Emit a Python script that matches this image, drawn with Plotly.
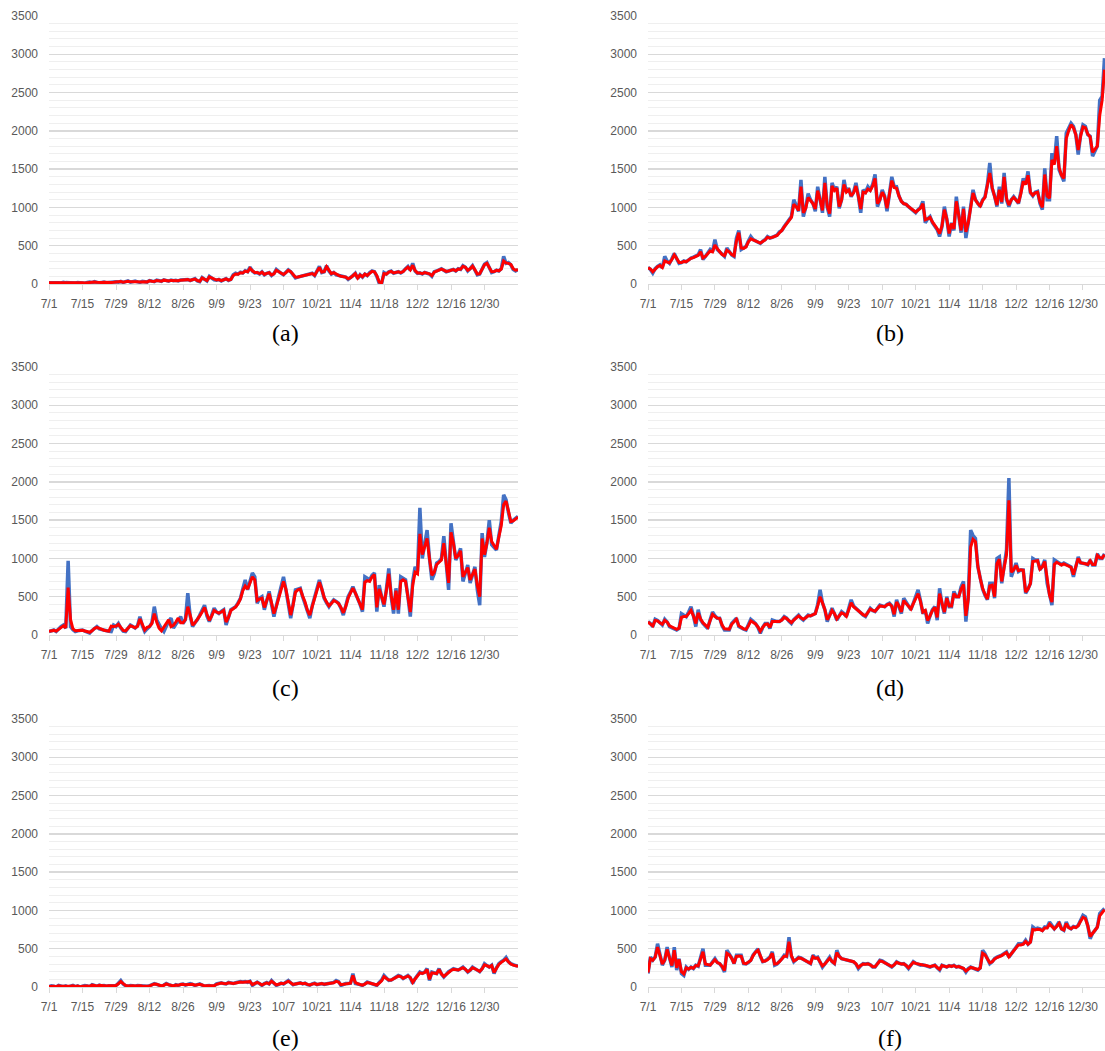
import pandas as pd
import plotly.graph_objects as go

START = "2019-07-01"
TICK_LABELS = ["7/1", "7/15", "7/29", "8/12", "8/26", "9/9", "9/23", "10/7",
               "10/21", "11/4", "11/18", "12/2", "12/16", "12/30"]
PANEL_LABELS = ["(a)", "(b)", "(c)", "(d)", "(e)", "(f)"]

A_ACT = [15,18,12,20,16,14,22,18,15,20,17,14,19,16,
         15,10,20,25,18,30,22,15,20,25,18,22,20,24,
         30,25,35,20,28,40,25,30,38,28,22,35,30,25,
         45,35,30,50,40,35,55,45,38,50,42,48,40,52,
         55,48,60,45,52,70,40,30,85,60,40,100,75,55,
         50,60,40,55,70,45,60,120,140,130,155,145,175,160,
         220,170,145,150,130,160,120,140,150,110,135,190,160,140,
         120,150,185,160,110,80,90,100,110,120,125,130,140,110,
         180,230,150,160,240,170,130,150,120,110,100,95,90,60,
         80,110,140,70,120,90,130,110,150,170,160,100,10,5,
         150,130,160,170,140,150,160,145,165,200,230,180,270,170,
         140,145,130,150,140,130,100,160,170,190,200,180,160,170,
         180,190,170,200,190,240,220,170,200,240,180,120,130,190,
         260,280,200,150,160,180,170,200,360,270,280,250,190,170,190]
A_PRED = [16,17,15,18,17,16,19,18,16,18,17,16,18,17,
          16,13,18,22,19,26,23,18,19,23,20,21,21,23,
          28,26,32,24,27,36,28,30,35,30,25,32,30,27,
          42,37,33,46,41,37,50,46,40,47,43,46,42,50,
          53,50,57,48,52,65,45,35,78,62,45,92,78,58,
          52,58,45,55,66,50,58,110,130,128,148,145,168,160,
          205,172,150,150,135,155,125,138,148,118,132,180,162,145,
          125,148,178,162,118,88,92,100,108,118,122,128,136,115,
          170,215,155,160,225,172,135,148,125,112,102,96,90,68,
          82,108,135,78,118,95,128,112,145,165,160,110,25,15,
          135,130,155,165,145,150,158,148,162,195,220,185,245,175,
          145,145,135,148,142,132,110,155,168,185,195,182,165,170,
          178,188,172,195,192,232,218,178,198,232,185,130,135,185,
          250,270,205,160,162,178,172,195,300,275,270,255,200,180,185]

B_ACT = [217,190,143,200,230,250,210,360,300,270,330,400,330,270,
         280,300,290,320,340,350,360,380,450,320,360,400,450,420,
         580,450,420,380,360,470,420,380,360,600,700,450,470,490,
         560,620,580,560,540,530,560,580,620,600,610,620,640,680,
         700,750,800,850,880,1100,1010,950,1360,880,1000,1180,1100,1050,
         950,1270,1100,930,1400,1000,880,1320,1230,1270,990,1100,1360,1200,
         1250,1140,1200,1320,1150,930,1230,1200,1270,1230,1300,1430,1010,1100,
         1230,1150,950,1200,1400,1270,1270,1150,1080,1050,1040,1010,980,960,
         930,970,1000,1080,800,850,880,800,750,710,620,750,1010,850,
         620,800,700,1140,900,670,1010,600,800,1000,1230,1100,1050,1010,
         1100,1140,1300,1580,1250,1150,1010,1270,1050,1450,1100,1010,1100,1140,
         1100,1050,1200,1380,1300,1470,1190,1150,1200,1210,1050,970,1510,1100,
         1100,1710,1580,1930,1490,1400,1340,1970,2050,2100,2060,1950,1690,1950,
         2080,2060,1950,1930,1670,1750,1800,2400,2450,2950]
B_PRED = [210,195,160,195,225,240,215,300,290,275,320,380,335,280,
          280,295,290,315,335,345,355,375,420,340,360,395,430,420,
          510,460,420,385,370,440,420,385,370,560,670,470,465,485,
          550,590,575,560,545,535,555,575,610,600,608,618,635,670,
          700,745,790,840,870,1040,1010,960,1270,930,990,1130,1090,1050,
          980,1220,1100,960,1320,1020,920,1280,1220,1250,1010,1100,1300,1200,
          1230,1150,1190,1280,1150,980,1200,1190,1240,1220,1280,1380,1050,1100,
          1200,1140,990,1180,1350,1260,1250,1150,1080,1050,1040,1010,985,965,
          940,965,990,1050,840,850,870,810,770,720,660,760,970,850,
          660,790,720,1080,900,700,980,680,800,990,1190,1100,1050,1020,
          1090,1130,1270,1450,1260,1160,1030,1230,1070,1400,1120,1030,1100,1130,
          1100,1060,1180,1340,1300,1420,1200,1160,1190,1200,1070,1000,1430,1150,
          1120,1620,1560,1800,1520,1420,1380,1900,2000,2080,2040,1950,1750,1930,
          2050,2040,1960,1920,1720,1760,1800,2200,2400,2800]

C_ACT = [45,55,65,45,80,110,130,90,970,110,70,45,55,60,
         65,50,40,25,60,90,110,80,70,65,55,50,45,130,
         110,150,90,50,45,90,130,110,90,120,240,120,45,80,
         110,160,370,200,130,80,45,120,180,220,90,140,180,240,
         150,200,545,250,110,160,200,260,320,390,250,175,260,350,
         300,280,310,330,130,230,330,350,370,420,480,600,720,590,
         700,810,760,415,480,500,330,450,570,400,240,380,500,620,
         760,590,400,220,400,590,600,610,500,415,300,220,380,500,
         600,720,600,480,420,370,420,460,440,415,350,260,380,500,
         560,630,550,480,400,305,760,740,720,780,810,305,650,500,
         370,600,870,500,280,610,280,760,740,720,500,240,700,890,
         830,1660,1000,1200,1370,1000,720,800,940,960,1000,1290,940,590,
         1460,1200,980,1050,1130,700,800,915,680,800,890,590,390,1330,
         1020,1200,1500,1180,1150,1110,1300,1480,1830,1765,1600,1460,1500,1520,1550]
C_PRED = [50,55,60,50,75,100,120,95,620,200,80,55,55,60,
          62,52,45,35,55,85,100,85,70,62,55,50,115,110,
          115,140,100,60,55,90,120,110,95,115,210,140,65,100,
          110,150,280,170,90,55,100,160,200,110,125,170,220,160,
          160,200,370,260,130,160,200,250,300,360,270,190,250,320,
          300,285,300,320,170,230,320,345,365,410,470,580,640,600,
          690,760,720,450,470,480,360,440,540,420,280,370,480,590,
          700,600,420,260,390,560,590,600,510,430,320,260,370,480,
          580,690,600,490,430,380,410,450,435,410,360,290,370,480,
          550,610,550,480,410,330,690,710,700,760,790,360,600,500,
          400,580,800,520,330,580,330,700,720,700,520,300,650,820,
          800,1320,1050,1150,1260,1000,780,820,920,950,980,1200,960,680,
          1340,1200,1000,1040,1100,760,820,880,720,800,860,650,500,1260,
          1050,1200,1400,1220,1160,1120,1280,1430,1700,1750,1620,1480,1490,1510,1540]

D_ACT = [175,150,110,205,190,160,130,205,170,110,100,80,65,85,
         280,260,240,300,370,250,110,330,200,150,120,85,200,300,
         250,220,220,120,65,70,65,150,180,220,110,90,75,65,
         130,205,180,150,100,20,100,150,150,85,195,180,175,175,
         200,240,220,180,150,200,230,260,220,195,230,260,250,270,
         280,400,590,420,330,175,260,350,280,195,250,305,280,240,
         350,460,380,350,320,280,260,240,300,350,320,305,350,390,
         380,370,400,415,380,240,460,380,280,480,420,380,330,420,
         480,590,450,280,330,150,250,330,370,195,610,400,280,500,
         370,370,570,500,500,630,700,175,500,1370,1300,1260,890,720,
         600,520,460,675,675,480,1000,1020,675,900,1110,2050,760,850,
         940,830,850,850,545,600,675,1000,980,980,850,900,980,675,
         500,390,980,960,940,920,940,920,900,890,760,900,1020,940,
         940,930,915,980,915,915,1060,1000,1000,1060]
D_PRED = [170,150,120,190,185,160,140,190,170,120,105,85,75,90,
          230,240,240,280,320,250,150,290,210,160,130,100,190,270,
          240,220,215,130,80,75,75,140,170,205,120,95,80,75,
          120,185,170,145,105,50,100,140,145,100,175,175,170,175,
          195,230,215,185,160,195,225,250,225,205,225,250,250,265,
          280,380,500,420,330,200,250,320,280,210,250,290,275,245,
          330,420,370,345,320,285,265,250,295,340,320,310,345,380,
          375,370,395,405,375,270,430,380,300,450,410,380,340,410,
          470,540,440,300,320,190,250,320,360,230,540,400,300,480,
          380,380,540,500,500,600,660,250,470,1150,1250,1220,900,740,
          610,530,470,640,650,500,930,990,700,880,1050,1760,820,850,
          910,840,850,845,560,600,670,960,970,970,860,890,960,700,
          520,430,920,950,930,915,930,915,900,885,790,890,1000,945,
          940,930,920,970,920,920,1040,1010,1005,1050]

E_ACT = [5,15,10,0,20,10,5,15,0,10,20,5,15,0,
         10,20,15,5,30,20,10,25,15,20,10,15,20,15,
         20,50,85,40,15,10,20,15,10,20,15,10,5,10,
         15,30,45,35,20,10,25,45,30,15,10,30,20,35,
         40,25,30,45,35,20,30,40,25,10,15,20,10,15,
         40,50,55,45,40,60,50,45,55,65,70,65,70,60,
         75,20,40,65,45,20,45,60,40,85,50,20,35,50,
         40,60,85,55,30,40,45,55,40,50,30,25,40,50,
         30,40,45,35,40,50,45,60,85,70,20,35,45,45,
         50,175,45,40,30,20,40,65,55,40,30,20,60,90,
         150,120,85,90,110,130,150,140,110,130,150,120,45,110,
         160,195,180,195,240,85,195,180,175,240,170,130,170,200,
         220,240,230,220,240,260,230,195,220,260,240,220,200,240,
         305,280,260,285,175,250,305,330,350,385,330,305,290,280,275]
E_PRED = [8,12,10,5,15,10,8,12,5,10,15,8,12,5,
          10,16,14,8,24,20,12,22,16,18,12,15,18,16,
          20,42,72,45,20,14,18,16,12,18,15,12,8,10,
          14,26,40,35,22,14,22,40,30,18,14,26,22,32,
          36,28,30,40,35,24,28,36,26,14,15,18,12,15,
          35,46,52,46,42,55,50,46,52,60,65,63,66,60,
          70,30,40,60,46,26,42,55,42,75,52,28,36,48,
          42,56,75,55,34,40,44,52,42,48,34,28,38,46,
          34,40,44,36,40,48,46,56,75,66,30,36,44,45,
          50,150,60,42,32,25,38,58,52,42,32,26,52,80,
          135,118,90,90,105,125,142,136,115,128,145,122,60,105,
          150,185,178,190,228,100,185,178,175,228,172,138,168,196,
          215,232,228,222,236,252,232,200,220,252,238,222,205,236,
          290,278,262,280,190,245,295,322,340,365,330,300,285,278,272]

F_ACT = [175,390,350,390,565,400,285,350,520,380,260,520,220,370,
         175,150,260,230,260,240,285,270,390,500,285,290,285,330,
         370,320,305,260,195,480,435,380,305,415,415,415,305,300,
         320,350,420,470,500,400,330,340,360,390,460,285,300,330,
         370,415,400,650,400,330,360,390,380,360,350,330,305,415,
         380,390,330,260,300,350,390,330,305,480,400,370,360,350,
         350,340,330,300,240,280,305,300,305,290,260,260,300,350,
         340,320,305,290,260,290,330,310,300,305,280,240,290,330,
         310,300,285,290,285,270,260,275,285,250,220,285,270,260,
         280,270,285,260,270,260,240,195,240,260,250,240,220,250,
         480,435,380,305,330,370,390,400,415,440,460,390,440,480,
         520,565,560,565,610,560,590,785,760,770,760,740,785,780,
         850,800,760,800,850,760,740,850,780,760,790,780,805,870,
         935,915,800,630,700,740,785,960,990,1025]
F_PRED = [190,370,350,390,520,400,300,350,490,380,280,480,250,360,
          200,170,250,235,255,245,280,275,370,460,300,290,285,320,
          355,320,305,270,215,440,420,375,310,400,405,400,310,305,
          320,345,410,455,480,400,335,340,355,385,440,300,305,330,
          360,400,400,590,410,340,355,380,375,360,350,335,310,395,
          375,380,335,275,300,340,375,335,310,450,400,370,360,350,
          348,338,330,305,255,280,300,298,302,290,265,265,298,340,
          335,320,305,292,268,288,322,310,300,302,282,250,288,322,
          308,300,286,288,284,272,264,274,282,255,232,280,268,262,
          276,270,280,262,268,258,244,210,238,255,248,240,228,248,
          440,420,375,315,330,365,385,395,410,430,450,395,435,470,
          510,550,550,560,595,560,585,750,745,755,750,735,770,770,
          820,790,760,790,830,760,745,830,775,760,785,775,800,860,
          910,895,800,660,700,740,780,930,975,1010]

SERIES = [(A_ACT, A_PRED), (B_ACT, B_PRED), (C_ACT, C_PRED),
          (D_ACT, D_PRED), (E_ACT, E_PRED), (F_ACT, F_PRED)]

W, H = 1105, 1051
COL_X = [(49, 518), (648, 1105)]
ROW_Y = [(16, 284), (367, 635), (719, 987)]
CAP_X = [285, 890]
CAP_Y = [333, 688, 1038]
RANGE_END = ["2020-01-13", "2020-01-08 05:00"]

tickvals = pd.date_range(START, periods=len(TICK_LABELS), freq="14D")

fig = go.Figure()
layout = dict(width=W, height=H,
              margin=dict(l=0, r=0, t=0, b=0, pad=0, autoexpand=False),
              paper_bgcolor="white", plot_bgcolor="white", showlegend=False,
              hovermode=False)
annotations = []
for i, (act, pred) in enumerate(SERIES):
    row, col = divmod(i, 2)
    n = "" if i == 0 else str(i + 1)
    dates = pd.date_range(START, periods=len(act), freq="D")
    fig.add_trace(go.Scatter(x=dates, y=act, mode="lines",
                             line=dict(color="#4472C4", width=3.5),
                             xaxis="x" + n, yaxis="y" + n))
    fig.add_trace(go.Scatter(x=dates, y=pred, mode="lines",
                             line=dict(color="#FF0000", width=3),
                             xaxis="x" + n, yaxis="y" + n))
    x0, x1 = COL_X[col]
    y0, y1 = ROW_Y[row]
    layout["xaxis" + n] = dict(
        domain=[x0 / W, x1 / W], anchor="y" + n, type="date",
        range=[START, RANGE_END[col]],
        tickmode="array", tickvals=list(tickvals), ticktext=TICK_LABELS,
        ticks="outside", ticklen=5, tickcolor="#d9d9d9", tickwidth=1,
        showline=True, linecolor="#d9d9d9", linewidth=1.3,
        showgrid=False, zeroline=False, ticklabelstandoff=3,
        tickfont=dict(family="Liberation Sans", size=12, color="#595959"))
    layout["yaxis" + n] = dict(
        domain=[1 - y1 / H, 1 - y0 / H], anchor="x" + n,
        range=[0, 3500], tickmode="linear", tick0=0, dtick=500,
        showgrid=True, gridcolor="#d9d9d9", gridwidth=1.3,
        minor=dict(dtick=100, showgrid=True, gridcolor="#efefef", gridwidth=1),
        zeroline=False, showline=False, ticks="", ticklabelstandoff=10,
        tickfont=dict(family="Liberation Sans", size=12, color="#595959"))
    annotations.append(dict(text=PANEL_LABELS[i], xref="paper", yref="paper",
                            x=CAP_X[col] / W, y=1 - CAP_Y[row] / H,
                            xanchor="center", yanchor="middle", showarrow=False,
                            font=dict(family="Liberation Serif", size=24, color="black")))
layout["annotations"] = annotations
fig.update_layout(**layout)
fig.write_html("out.html",
               config={"displayModeBar": False, "staticPlot": True},
               post_script="document.body.style.margin='0';"
                           "document.body.style.overflow='hidden';")
